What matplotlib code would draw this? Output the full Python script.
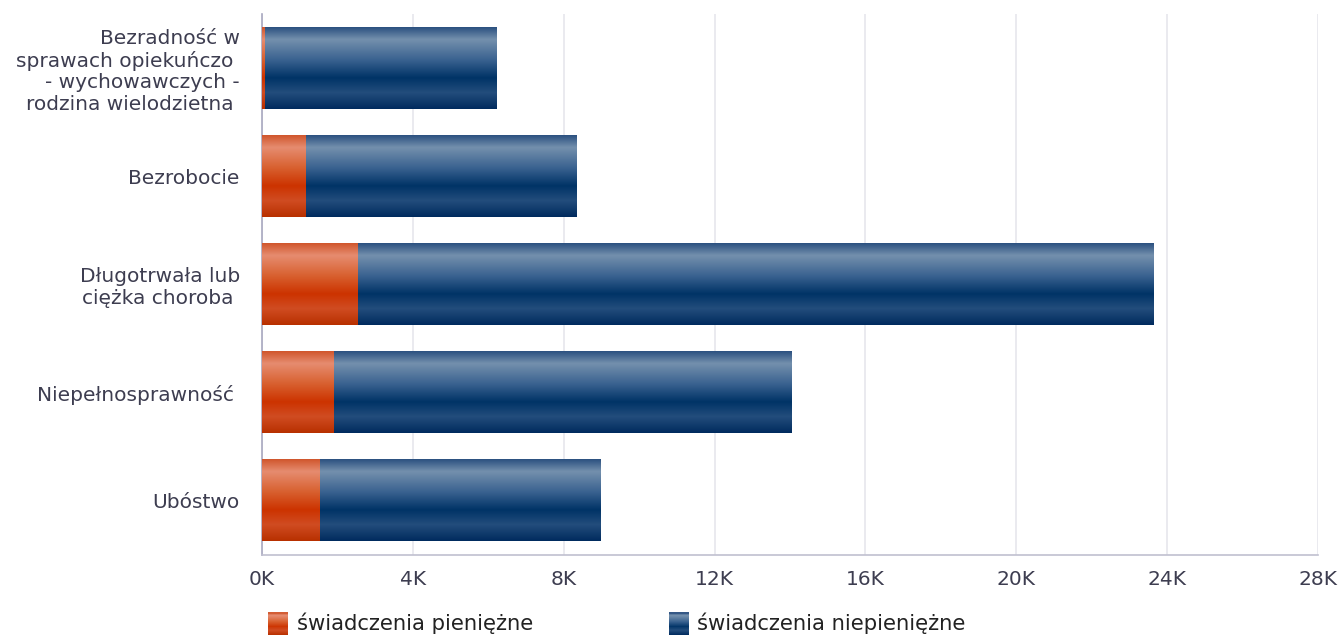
import numpy as np
import matplotlib
matplotlib.use("Agg")
import matplotlib.pyplot as plt
from matplotlib.colors import LinearSegmentedColormap
from matplotlib.patches import Rectangle
from matplotlib.legend_handler import HandlerBase
from matplotlib.ticker import FuncFormatter, MultipleLocator

categories = [
    "Bezradność w\nsprawach opiekuńczo \n- wychowawczych -\nrodzina wielodzietna ",
    "Bezrobocie",
    "Długotrwała lub\nciężka choroba ",
    "Niepełnosprawność ",
    "Ubóstwo",
]
cash = [80, 1170, 2550, 1910, 1540]
noncash = [6150, 7180, 21080, 12120, 7450]
series_names = ["świadczenia pieniężne", "świadczenia niepieniężne"]

blue_stops = [(0.0, "#2b5080"), (0.15, "#7490ad"), (0.4, "#3a6290"),
              (0.62, "#003366"), (0.8, "#234d7c"), (1.0, "#002b5e")]
orange_stops = [(0.0, "#d0562c"), (0.15, "#e68c70"), (0.4, "#d8602f"),
                (0.62, "#cc3300"), (0.8, "#d04c22"), (1.0, "#b83000")]
cm_orange = LinearSegmentedColormap.from_list("o", orange_stops)
cm_blue = LinearSegmentedColormap.from_list("b", blue_stops)

text_color = "#3d3d50"
plt.rcParams['font.family'] = ['DejaVu Sans']

fig = plt.figure(figsize=(13.4, 6.36), dpi=100)
ax = fig.add_axes([262/1340, 1-555/636, (1318-262)/1340, (555-14)/636])

y = np.arange(len(categories))
b1 = ax.barh(y, cash, height=0.75, color="#cc3300", linewidth=0, zorder=2)
b2 = ax.barh(y, noncash, left=cash, height=0.75, color="#003366", linewidth=0, zorder=2)

grad = np.linspace(0, 1, 256).reshape(-1, 1)
for bars, cmap in ((b1, cm_orange), (b2, cm_blue)):
    for p in bars:
        x0, y0, w, h = p.get_x(), p.get_y(), p.get_width(), p.get_height()
        p.set_visible(False)
        ax.imshow(grad, cmap=cmap, aspect="auto", interpolation="bilinear",
                  extent=(x0, x0 + w, y0 + h, y0), zorder=3)

ax.set_xlim(0, 28000)
ax.set_ylim(len(categories) - 0.5, -0.5)
ax.xaxis.set_major_locator(MultipleLocator(4000))
ax.xaxis.set_major_formatter(FuncFormatter(lambda v, p: f"{int(v/1000)}K"))
ax.set_yticks(y)
ax.set_yticklabels(categories, fontsize=14.5, color=text_color, ha="right",
                   multialignment="right", linespacing=1.18)
ax.tick_params(axis="y", length=0, pad=16)
ax.tick_params(axis="x", length=0, pad=11, labelsize=14.5, labelcolor=text_color)
ax.grid(axis="x", color="#e6e6ec", linewidth=1.2, zorder=0)
ax.set_axisbelow(True)
for s in ("top", "right"):
    ax.spines[s].set_visible(False)
ax.spines["left"].set_color("#a8a8c0")
ax.spines["left"].set_linewidth(1.2)
ax.spines["bottom"].set_color("#c0c0d0")
ax.spines["bottom"].set_linewidth(1.2)


class GradHandler(HandlerBase):
    def __init__(self, cmap):
        super().__init__()
        self.cmap = cmap

    def create_artists(self, legend, orig_handle, xdescent, ydescent, width,
                       height, fontsize, trans):
        arts = []
        n = 24
        w = 14.5
        h = 16
        x0 = -xdescent + width - w
        y0 = -ydescent + height / 2 - h / 2 - 1
        for i in range(n):
            c = self.cmap(1 - (i + 0.5) / n)
            r = Rectangle((x0, y0 + i * h / n), w, h / n + 0.3, facecolor=c,
                          edgecolor="none", transform=trans)
            arts.append(r)
        return arts


h1 = Rectangle((0, 0), 1, 1)
h2 = Rectangle((0, 0), 1, 1)
leg = fig.legend([h1, h2], series_names, loc="center left",
                 bbox_to_anchor=(248/1340, 1-623/636), ncol=2, frameon=False,
                 fontsize=15.2, labelcolor="#222222", handlelength=1.0,
                 handletextpad=0.4, columnspacing=6.4,
                 handler_map={h1: GradHandler(cm_orange), h2: GradHandler(cm_blue)})

fig.savefig("out.png", dpi=100)
